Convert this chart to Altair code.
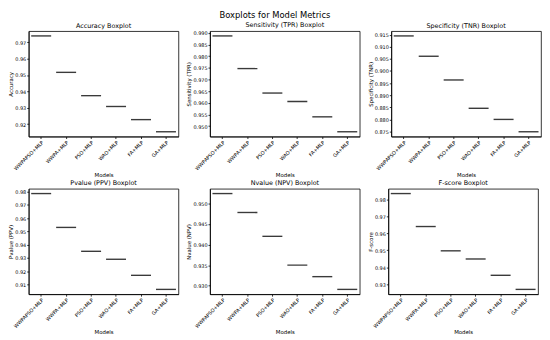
import altair as alt
import pandas as pd

models = ["WWPAPSO+MLP", "WWPA+MLP", "PSO+MLP", "WAO+MLP", "FA+MLP", "GA+MLP"]

accuracy = [0.9738, 0.9516, 0.9374, 0.9308, 0.9228, 0.9154]
sensitivity = [0.9887, 0.9747, 0.9642, 0.9606, 0.9540, 0.9476]
specificity = [0.9145, 0.9061, 0.8963, 0.8846, 0.8800, 0.8749]
ppv = [0.9785, 0.9530, 0.9350, 0.9290, 0.9169, 0.9063]
npv = [0.9524, 0.9478, 0.9420, 0.9350, 0.9322, 0.9291]
fscore = [0.9833, 0.9639, 0.9496, 0.9448, 0.9352, 0.9269]

acc_ticks = [0.92, 0.93, 0.94, 0.95, 0.96, 0.97]
sens_ticks = [0.950, 0.955, 0.960, 0.965, 0.970, 0.975, 0.980, 0.985, 0.990]
spec_ticks = [0.875, 0.880, 0.885, 0.890, 0.895, 0.900, 0.905, 0.910, 0.915]
ppv_ticks = [0.91, 0.92, 0.93, 0.94, 0.95, 0.96, 0.97, 0.98]
npv_ticks = [0.930, 0.935, 0.940, 0.945, 0.950]
f_ticks = [0.93, 0.94, 0.95, 0.96, 0.97, 0.98]

W, H = 152, 107
FONT = "DejaVu Sans"


def panel(values, ticks, fmt, ytitle, title):
    df = pd.DataFrame({"Model": models, "Value": values})
    lo, hi = min(values), max(values)
    pad = (hi - lo) * 0.05
    return (
        alt.Chart(df, title=alt.Title(title, fontSize=6.5, fontWeight="normal",
                                      font=FONT, offset=2, color="black"))
        .mark_tick(size=0.8 * W / 6, thickness=1.4, color="#3a3a3a", opacity=1)
        .encode(
            x=alt.X("Model:N", sort=models,
                    scale=alt.Scale(paddingInner=0, paddingOuter=0),
                    axis=alt.Axis(title="Models", labelAngle=-45)),
            y=alt.Y("Value:Q",
                    scale=alt.Scale(domain=[lo - pad, hi + pad], nice=False, zero=False),
                    axis=alt.Axis(values=ticks, format=fmt, title=ytitle)),
        )
        .properties(width=W, height=H)
    )


row1 = alt.hconcat(
    panel(accuracy, acc_ticks, ".2f", "Accuracy", "Accuracy Boxplot"),
    panel(sensitivity, sens_ticks, ".3f", "Sensitivity (TPR)", "Sensitivity (TPR) Boxplot"),
    panel(specificity, spec_ticks, ".3f", "Specificity (TNR)", "Specificity (TNR) Boxplot"),
    spacing=7,
)
row2 = alt.hconcat(
    panel(ppv, ppv_ticks, ".2f", "Pvalue (PPV)", "Pvalue (PPV) Boxplot"),
    panel(npv, npv_ticks, ".3f", "Nvalue (NPV)", "Nvalue (NPV) Boxplot"),
    panel(fscore, f_ticks, ".2f", "F-score", "F-score Boxplot"),
    spacing=7,
)

chart = (
    alt.vconcat(row1, row2, spacing=1,
                title=alt.Title("Boxplots for Model Metrics", fontSize=8.5,
                                fontWeight="normal", font=FONT, anchor="middle",
                                offset=3, color="black"))
    .properties(padding={"left": 0, "top": 0, "right": 0, "bottom": 0})
    .configure(font=FONT)
    .configure_view(stroke="black", strokeWidth=0.8)
    .configure_axis(
        grid=False, domainColor="black", domainWidth=0.8, tickColor="black",
        tickWidth=0.8, tickSize=2, labelFont=FONT, titleFont=FONT,
        labelFontSize=5, titleFontSize=5.5, titleFontWeight="normal",
        labelColor="black", titleColor="black", labelPadding=1, titlePadding=1,
    )
)

chart.save("out.html", embed_options={"renderer": "svg", "actions": False})
